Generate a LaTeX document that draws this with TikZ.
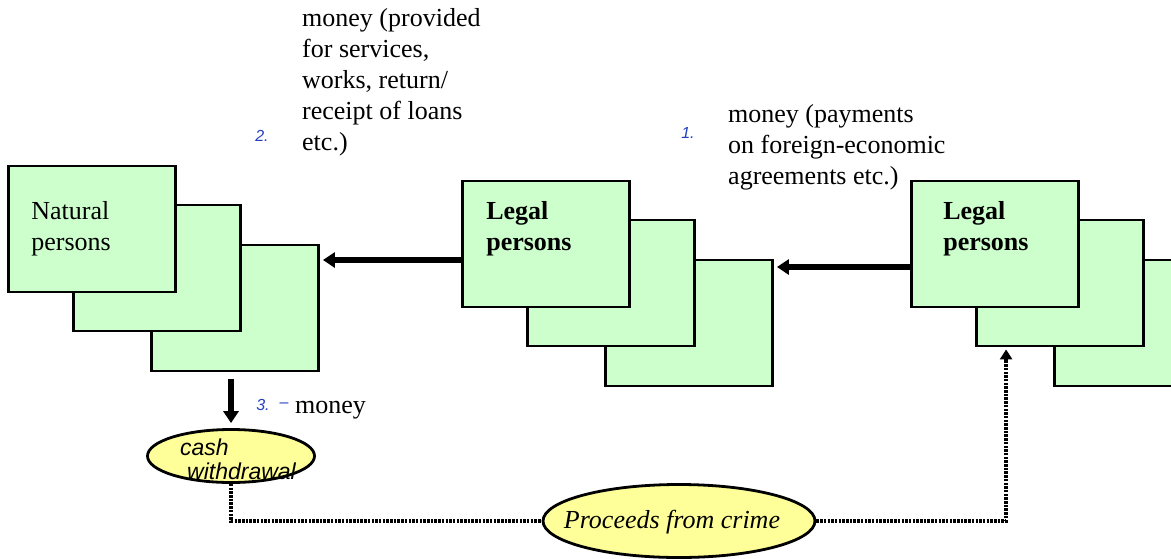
\documentclass[tikz,border=0pt]{standalone}
\usepackage{fontspec}
\setmainfont{Liberation Serif}
\setsansfont{Liberation Sans}
\usetikzlibrary{shapes.geometric}
\usetikzlibrary{arrows.meta}
\definecolor{sheetgreen}{RGB}{204,255,204}
\definecolor{blobyellow}{RGB}{255,255,153}
\definecolor{stepblue}{RGB}{35,65,190}
\tikzset{sheet/.style={draw=black, line width=2.8pt, fill=sheetgreen, minimum width=167pt, minimum height=126pt, inner sep=0pt},
%text on the front sheet
persons/.style={anchor=north west, align=left, inner sep=0pt, font=\fontsize{26}{31}\selectfont},
blob/.style={ellipse, draw=black, line width=2.8pt, fill=blobyellow, inner sep=0pt},
note/.style={align=left, inner sep=0pt, font=\fontsize{26}{31}\selectfont},
stepnum/.style={inner sep=0pt, text=stepblue, font=\sffamily\itshape\fontsize{16}{18}\selectfont},
%solid money flow and dotted crime trail
flow/.style={line width=5.5pt, -{Triangle[length=12pt,width=15pt]}},
trail/.style={line width=4pt, dash pattern=on 2.5pt off 1.2pt}}

\begin{document}
\begin{tikzpicture}[x=1pt,y=-1pt]
\useasboundingbox (0,0) rectangle (1171,558);
\clip (0,0) rectangle (1171,558);
% three stacked sheets for each group
\foreach \n/\x/\y in {nat/92/229, mid/546/244, far/995/244}
{
  \node[sheet] (\n3) at (\x+143,\y+79) {};
  \node[sheet] (\n2) at (\x+65,\y+39) {};
  \node[sheet] (\n1) at (\x,\y) {};
}
\node[persons] (natText) at ([shift={(24,37)}]nat1.north west) {Natural\\persons};
\node[persons, font=\fontsize{26}{31}\selectfont\bfseries] (midText) at ([shift={(25,22)}]mid1.north west) {Legal\\persons};
\node[persons, font=\fontsize{26}{31}\selectfont\bfseries] (farText) at ([shift={(33,22)}]far1.north west) {Legal\\persons};

% ellipses
\node[blob, minimum width=167pt, minimum height=53pt] (cash) at (231,456) {};
\node[align=left, inner sep=0pt, font=\sffamily\itshape\fontsize{23}{24}\selectfont] (cashText) at (238,459) {cash\\\hspace*{7pt}withdrawal};
\node[blob, minimum width=272pt, minimum height=73pt] (crime) at (679,521) {};
\node[inner sep=0pt, font=\itshape\fontsize{26}{31}\selectfont] (crimeText) at (672,522) {Proceeds from crime};

% money flows
\draw[flow, shorten >=3pt] ([yshift=-16pt]mid1.west) -- ([yshift=-16pt]mid1.west -| nat3.east);
\draw[flow, shorten >=3pt] ([yshift=-23pt]far1.west) -- ([yshift=-23pt]far1.west -| mid3.east);
\draw[flow, shorten <=7pt, shorten >=5pt] (nat3.south -| cash.north) -- (cash.north);

% proceeds from crime
\draw[trail] (cash.south) |- (crime.west);
\draw[trail, -{Triangle[length=10pt,width=12pt]}, shorten >=2pt] (crime.east) -| ([xshift=31pt]far2.south west);

%labels
\node[stepnum] (two) at (262,136) {2.};
\node[stepnum] (one) at (688,133) {1.};
\node[stepnum] (three) at (263,405) {3.};
\node[stepnum, font=\sffamily\fontsize{16}{18}\selectfont] (dash) at (284,405) {--};
\node[note, anchor=west] (moneyThree) at (295,410) {money};
\node[note, anchor=north west] (moneyTwo) at (302,8) {money (provided\\for services,\\works, return/\\receipt of loans\\etc.)};
\node[note, anchor=north west] (moneyOne) at (728,104) {money (payments\\on foreign-economic\\agreements etc.)};
\end{tikzpicture}
\end{document}
